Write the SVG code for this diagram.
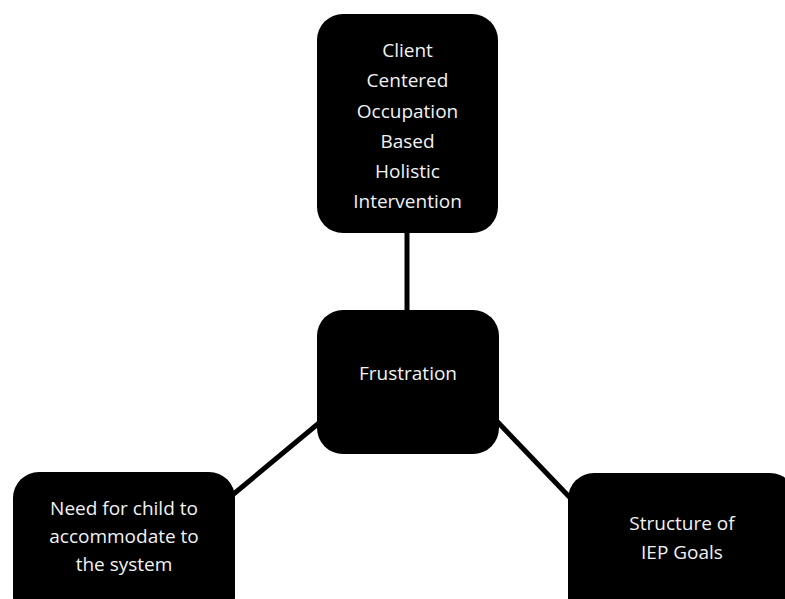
<svg xmlns="http://www.w3.org/2000/svg" width="785" height="599" viewBox="0 0 785 599">
<style>
.node{fill:#000}
.lbl{fill:#f2f2f2;font-family:"Open Sans","Liberation Sans",sans-serif;font-size:19px;text-anchor:middle}
.conn{stroke:#000;stroke-width:5;fill:none}
</style>
<rect width="785" height="599" fill="#fff"/>
<g id="connectors">
<line class="conn" x1="407" y1="225" x2="407" y2="318"/>
<line class="conn" x1="230" y1="497" x2="325" y2="418"/>
<line class="conn" x1="490" y1="414" x2="578" y2="506"/>
</g>
<g id="node-intervention">
<rect class="node" x="317" y="14" width="181" height="219" rx="26"/>
<text class="lbl" x="407.5" y="57">Client</text>
<text class="lbl" x="407.5" y="87">Centered</text>
<text class="lbl" x="407.5" y="118">Occupation</text>
<text class="lbl" x="407.5" y="148">Based</text>
<text class="lbl" x="407.5" y="178">Holistic</text>
<text class="lbl" x="407.5" y="208">Intervention</text>
</g>
<g id="node-frustration">
<rect class="node" x="317" y="310" width="182" height="144" rx="26"/>
<text class="lbl" x="408" y="380">Frustration</text>
</g>
<g id="node-need">
<rect class="node" x="13" y="472" width="222" height="150" rx="26"/>
<text class="lbl" x="124" y="515">Need for child to</text>
<text class="lbl" x="124" y="543">accommodate to</text>
<text class="lbl" x="124" y="571">the system</text>
</g>
<g id="node-structure">
<rect class="node" x="568" y="473" width="228" height="150" rx="26"/>
<text class="lbl" x="682" y="530">Structure of</text>
<text class="lbl" x="682" y="559">IEP Goals</text>
</g>
</svg>
